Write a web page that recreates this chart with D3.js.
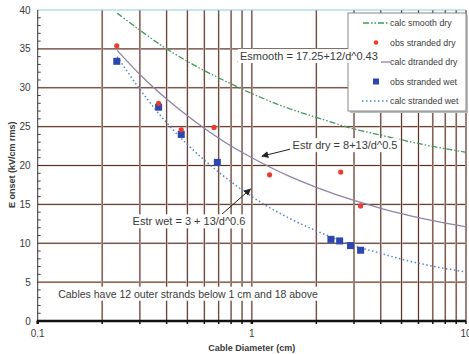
<!DOCTYPE html>
<html>
<head>
<meta charset="utf-8">
<script src="https://cdn.jsdelivr.net/npm/d3@7"></script>
<style>
  body { margin: 0; background: #fff; }
  svg text { font-family: "Liberation Sans", Arial, sans-serif; fill: #3a3a3a; }
</style>
</head>
<body>
<div id="chart-area"></div>
<script>
// observed points (cable diameter cm, E onset kV/cm rms)
const obsDryD = [0.234, 0.367, 0.468, 0.666, 1.21, 2.60, 3.22];
const obsDryE = [35.4, 28.0, 24.6, 24.9, 18.8, 19.15, 14.8];
const obsWetD = [0.234, 0.367, 0.468, 0.690, 2.34, 2.57, 2.89, 3.22];
const obsWetE = [33.4, 27.5, 24.0, 20.4, 10.5, 10.3, 9.7, 9.1];

// calculated curves
const calcD = [0.235, 0.3, 0.4, 0.5, 0.6, 0.8, 1, 1.5, 2, 3, 4, 5, 7, 10];
const smoothDryE = [39.6, 37.4, 35.0, 33.4, 32.2, 30.5, 29.25, 27.3, 26.2, 24.7, 23.9, 23.3, 22.45, 21.7];
const strDryE = [34.8, 31.7, 28.55, 26.4, 24.8, 22.5, 21.0, 18.6, 17.2, 15.5, 14.5, 13.8, 12.9, 12.1];
const strWetE = [34.0, 29.8, 25.5, 22.7, 20.7, 17.9, 16.0, 13.2, 11.6, 9.7, 8.7, 7.95, 7.05, 6.3];

const yTicks = [0, 5, 10, 15, 20, 25, 30, 35, 40];
const xTicks = [0.1, 1, 10];
const xGrid = [0.2, 0.3, 0.4, 0.5, 0.6, 0.7, 0.8, 0.9, 1, 2, 3, 4, 5, 6, 7, 8, 9, 10];

const W = 469, H = 354;
const svg = d3.select("#chart-area").append("svg")
    .attr("width", W)
    .attr("height", H);

const x = d3.scaleLog().domain([0.1, 10]).range([37.7, 466]);
const y = d3.scaleLinear().domain([0, 40]).range([321, 10]);

svg.append("defs").append("marker")
    .attr("id", "arrow")
    .attr("viewBox", "0 0 10 10")
    .attr("refX", 9).attr("refY", 5)
    .attr("markerWidth", 7).attr("markerHeight", 7)
    .attr("orient", "auto")
    .append("path")
    .attr("d", "M0,0 L10,5 L0,10 z")
    .attr("fill", "#222");

// gridlines: dark core with a faint reddish halo
const grid = svg.append("g");
function gridLine(x1, y1, x2, y2) {
    grid.append("line").attr("x1", x1).attr("y1", y1).attr("x2", x2).attr("y2", y2)
        .attr("stroke", "#f5cbbd").attr("stroke-width", 2);
    grid.append("line").attr("x1", x1).attr("y1", y1).attr("x2", x2).attr("y2", y2)
        .attr("stroke", "#2f2726").attr("stroke-width", 0.9);
}
yTicks.filter(v => v > 0 && v < 40).forEach(v => gridLine(x(0.1), y(v), x(10), y(v)));
xGrid.forEach(v => gridLine(x(v), y(40), x(v), y(0)));

// top border
svg.append("line")
    .attr("x1", x(0.1)).attr("x2", x(10))
    .attr("y1", y(40)).attr("y2", y(40))
    .attr("stroke", "#8ccbe0").attr("stroke-width", 1.2);

// left axis with minor ticks
svg.append("line")
    .attr("x1", x(0.1)).attr("x2", x(0.1))
    .attr("y1", y(40)).attr("y2", y(0))
    .attr("stroke", "#333").attr("stroke-width", 1);
svg.append("g").selectAll("line")
    .data(d3.range(1, 40).filter(v => v % 5 !== 0))
    .join("line")
    .attr("x1", x(0.1)).attr("x2", x(0.1) + 3)
    .attr("y1", d => y(d)).attr("y2", d => y(d))
    .attr("stroke", "#444").attr("stroke-width", 1);

svg.append("g").selectAll("text")
    .data(yTicks)
    .join("text")
    .attr("x", x(0.1) - 7)
    .attr("y", d => y(d))
    .attr("dy", "0.35em")
    .attr("text-anchor", "end")
    .attr("font-size", 10)
    .text(d => d);

// bottom axis
svg.append("line")
    .attr("x1", x(0.1) - 1).attr("x2", x(10))
    .attr("y1", y(0)).attr("y2", y(0))
    .attr("stroke", "#111").attr("stroke-width", 2.5);
svg.append("g").selectAll("line")
    .data(xGrid.concat([0.1]))
    .join("line")
    .attr("x1", d => x(d)).attr("x2", d => x(d))
    .attr("y1", y(0)).attr("y2", y(0) + 3)
    .attr("stroke", "#111").attr("stroke-width", d => (d === 1 || d === 0.1) ? 2.5 : 1.5);

svg.append("g").selectAll("text")
    .data(xTicks)
    .join("text")
    .attr("x", d => x(d))
    .attr("y", y(0) + 16)
    .attr("text-anchor", "middle")
    .attr("font-size", 10)
    .text(d => d);

// axis titles
svg.append("text")
    .attr("transform", "translate(15," + y(20.1) + ") rotate(-90)")
    .attr("text-anchor", "middle")
    .attr("font-size", 9)
    .attr("font-weight", "bold")
    .text("E onset (kV/cm rms)");

svg.append("text")
    .attr("x", x(1))
    .attr("y", 351)
    .attr("text-anchor", "middle")
    .attr("font-size", 9)
    .attr("font-weight", "bold")
    .text("Cable Diameter (cm)");

// curves
const line = (ys) => d3.line()
    .curve(d3.curveMonotoneX)
    .x((d, i) => x(calcD[i]))
    .y(d => y(d))(ys);

svg.append("path")
    .attr("d", line(smoothDryE))
    .attr("fill", "none")
    .attr("stroke", "#3f9a5c")
    .attr("stroke-width", 1.3)
    .attr("stroke-dasharray", "6,2,1.5,2,1.5,2");

svg.append("path")
    .attr("d", line(strDryE))
    .attr("fill", "none")
    .attr("stroke", "#8e84a6")
    .attr("stroke-width", 1.3);

svg.append("path")
    .attr("d", line(strWetE))
    .attr("fill", "none")
    .attr("stroke", "#4f86cc")
    .attr("stroke-width", 1.5)
    .attr("stroke-dasharray", "1.5,2.5");

// observed markers
svg.append("g").selectAll("rect")
    .data(obsWetD)
    .join("rect")
    .attr("x", d => x(d) - 3.5)
    .attr("y", (d, i) => y(obsWetE[i]) - 3.5)
    .attr("width", 7).attr("height", 7)
    .attr("fill", "#2c48b0");

svg.append("g").selectAll("circle")
    .data(obsDryD)
    .join("circle")
    .attr("cx", d => x(d))
    .attr("cy", (d, i) => y(obsDryE[i]))
    .attr("r", 2.6)
    .attr("fill", "#ee3b30");

// legend
const legend = svg.append("g");
legend.append("rect")
    .attr("x", 350).attr("y", 15)
    .attr("width", 118).attr("height", 98)
    .attr("fill", "#bbb");
legend.append("rect")
    .attr("x", 348).attr("y", 13)
    .attr("width", 118).attr("height", 98)
    .attr("fill", "#fff")
    .attr("stroke", "#888").attr("stroke-width", 1);

const legendItems = ["calc smooth dry", "obs stranded dry", "calc dtranded dry", "obs stranded wet", "calc stranded wet"];
legendItems.forEach((name, i) => {
    const ly = 23 + i * 19.5;
    if (i === 0) {
        legend.append("line").attr("x1", 363).attr("x2", 388).attr("y1", ly).attr("y2", ly)
            .attr("stroke", "#3f9a5c").attr("stroke-width", 1.3)
            .attr("stroke-dasharray", "6,2,1.5,2,1.5,2");
    } else if (i === 1) {
        legend.append("circle").attr("cx", 376).attr("cy", ly).attr("r", 2.3).attr("fill", "#ee3b30");
    } else if (i === 2) {
        legend.append("line").attr("x1", 381).attr("x2", 390).attr("y1", ly).attr("y2", ly)
            .attr("stroke", "#8e84a6").attr("stroke-width", 1.3);
    } else if (i === 3) {
        legend.append("rect").attr("x", 373).attr("y", ly - 3).attr("width", 6).attr("height", 6).attr("fill", "#2c48b0");
    } else {
        legend.append("line").attr("x1", 362).attr("x2", 389).attr("y1", ly).attr("y2", ly)
            .attr("stroke", "#4f86cc").attr("stroke-width", 1.5)
            .attr("stroke-dasharray", "1.5,2.5");
    }
    legend.append("text")
        .attr("x", 390).attr("y", ly)
        .attr("dy", "0.35em")
        .attr("font-size", 8.8)
        .text(name);
});

// annotations (white boxes behind the text)
function note(dx, dy, label, size) {
    const g = svg.append("g");
    const bg = g.append("rect").attr("fill", "#fff");
    const t = g.append("text")
        .attr("x", x(dx)).attr("y", y(dy))
        .attr("dy", "0.35em")
        .attr("font-size", size)
        .text(label);
    const b = t.node().getBBox();
    bg.attr("x", b.x - 2).attr("y", b.y - 1)
        .attr("width", b.width + 4).attr("height", b.height + 2);
}

svg.append("line")
    .attr("x1", x(0.89)).attr("y1", y(33.9))
    .attr("x2", x(0.86)).attr("y2", y(33.3))
    .attr("stroke", "#222").attr("stroke-width", 1);
note(0.88, 34.06, "Esmooth = 17.25+12/d^0.43", 11);

svg.append("line")
    .attr("x1", x(1.51)).attr("y1", y(22.1))
    .attr("x2", x(1.115)).attr("y2", y(21.2))
    .attr("stroke", "#222").attr("stroke-width", 1)
    .attr("marker-end", "url(#arrow)");
note(1.55, 22.6, "Estr dry = 8+13/d^0.5", 11);

svg.append("line")
    .attr("x1", x(0.7255)).attr("y1", y(13.75))
    .attr("x2", x(0.986)).attr("y2", y(16.97))
    .attr("stroke", "#222").attr("stroke-width", 1)
    .attr("marker-end", "url(#arrow)");
note(0.2775, 12.8, "Estr wet = 3 + 13/d^0.6", 11);

note(0.1246, 3.47, "Cables have 12 outer strands below 1 cm and 18 above", 10.5);
</script>
</body>
</html>
